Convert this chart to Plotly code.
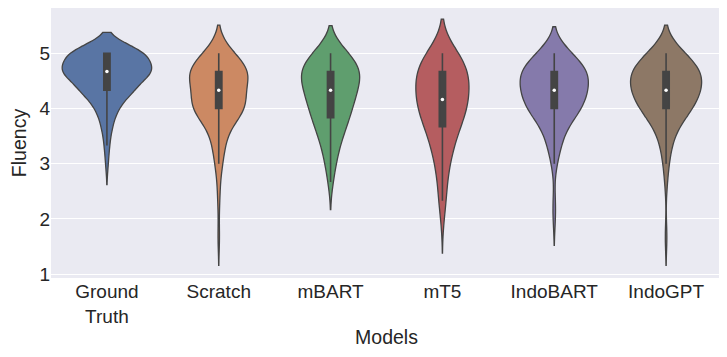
"""Violin plot of fluency ratings per model."""

import numpy as np
import plotly.graph_objects as go

# rating levels (average of three annotators) and how many samples got each
SCORES = [1.0, 1.33, 1.67, 2.0, 2.33, 2.67, 3.0, 3.33, 3.67, 4.0, 4.33, 4.67, 5.0]

MODELS = ["Ground<br>Truth", "Scratch", "mBART", "mT5", "IndoBART", "IndoGPT"]

COUNTS_GROUND_TRUTH = [0, 0, 0, 0, 0, 0, 1, 2, 4, 8, 20, 35, 30]
COUNTS_SCRATCH = [0, 0, 1, 0, 1, 1, 3, 5, 8, 24, 18, 28, 11]
COUNTS_MBART = [0, 0, 0, 0, 0, 2, 4, 7, 12, 16, 20, 25, 14]
COUNTS_MT5 = [0, 0, 0, 1, 3, 3, 5, 8, 12, 18, 18, 20, 12]
COUNTS_INDOBART = [0, 0, 0, 1, 1, 0, 2, 5, 9, 20, 24, 26, 12]
COUNTS_INDOGPT = [0, 0, 1, 0, 0, 1, 2, 4, 8, 19, 25, 27, 13]

COUNTS = [COUNTS_GROUND_TRUTH, COUNTS_SCRATCH, COUNTS_MBART,
          COUNTS_MT5, COUNTS_INDOBART, COUNTS_INDOGPT]

# seaborn "deep" palette, desaturated like sns.violinplot does
COLORS = ["#5975a4", "#cc8963", "#5f9e6e", "#b55d60", "#857aab", "#8d7866"]
BANDWIDTHS = [0.19, 0.255, 0.25, 0.31, 0.24, 0.255]
# max violin widths (category units), seaborn's scale="area" look
WIDTHS = [0.80, 0.52, 0.52, 0.475, 0.61, 0.635]

LINE = "#444444"
TEXT = "#262626"
FONT = "Liberation Sans, Arial, sans-serif"

fig = go.Figure()
medians = []
for name, counts, color, bw, w in zip(MODELS, COUNTS, COLORS, BANDWIDTHS, WIDTHS):
    values = np.repeat(SCORES, counts)
    medians.append(float(np.median(values)))
    fig.add_trace(go.Violin(
        x0=name,
        y=values,
        name=name,
        width=w,
        scalegroup=name,
        scalemode="width",
        spanmode="soft",
        bandwidth=bw,
        fillcolor=color,
        opacity=1,
        line=dict(color=LINE, width=1.3),
        points=False,
        box=dict(
            visible=True,
            width=0.056 / w,
            fillcolor=LINE,
            line=dict(color=LINE, width=1.6),
        ),
        hoverinfo="skip",
        showlegend=False,
    ))

fig.add_trace(go.Scatter(
    x=MODELS,
    y=medians,
    mode="markers",
    marker=dict(color="white", size=3.5),
    hoverinfo="skip",
    showlegend=False,
))

# the page body adds an 8px margin, so the figure is drawn 8px smaller
fig.update_layout(
    width=719,
    height=349,
    margin=dict(l=43, r=5, t=0, b=79),
    paper_bgcolor="white",
    plot_bgcolor="#eaeaf2",
    violinmode="overlay",
    font=dict(family=FONT, color=TEXT, size=19),
)
fig.update_xaxes(
    showgrid=False,
    zeroline=False,
    ticks="",
    automargin=False,
    tickfont=dict(size=19, color=TEXT),
    title=dict(text="Models", font=dict(size=19.5, color=TEXT), standoff=4),
    range=[-0.5, 5.5],
)
fig.update_yaxes(
    range=[0.93, 5.82],
    tickvals=[1, 2, 3, 4, 5],
    gridcolor="white",
    gridwidth=1.2,
    zeroline=False,
    ticks="",
    automargin=False,
    tickfont=dict(size=19, color=TEXT),
    title=dict(text="Fluency", font=dict(size=19.5, color=TEXT), standoff=8),
)

fig.write_html("out.html")
